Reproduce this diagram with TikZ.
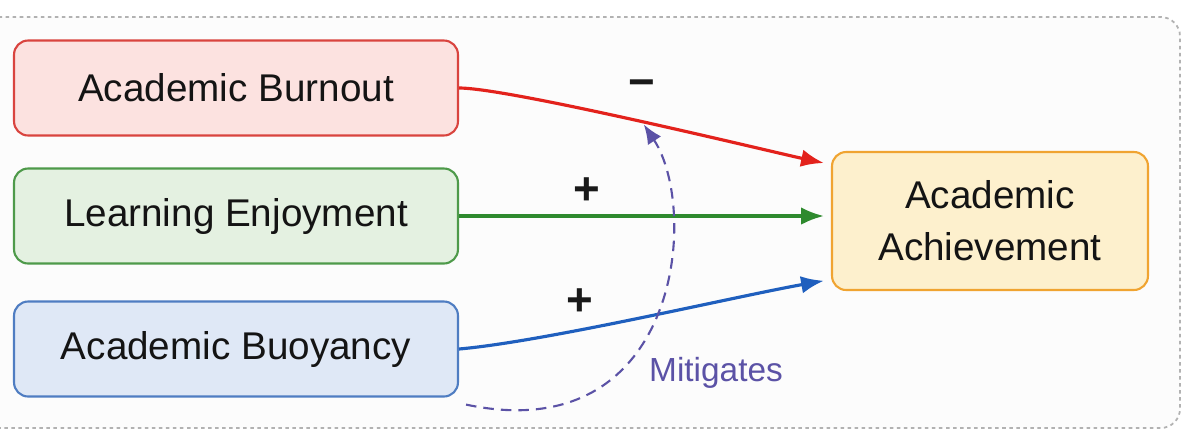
\documentclass[tikz,border=0pt]{standalone}
\usepackage{fontspec}
\setmainfont{Liberation Sans}
\usetikzlibrary{arrows.meta}

\definecolor{burnline}{HTML}{D9443F}
\definecolor{burnfill}{HTML}{FCE2E0}
\definecolor{enjline}{HTML}{4E9A4A}
\definecolor{enjfill}{HTML}{E4F1E1}
\definecolor{buoyline}{HTML}{4F7DC2}
\definecolor{buoyfill}{HTML}{DFE8F6}
\definecolor{achline}{HTML}{F0A431}
\definecolor{achfill}{HTML}{FDF0CD}
\definecolor{redarrow}{HTML}{E3221C}
\definecolor{greenarrow}{HTML}{2E8A2E}
\definecolor{bluearrow}{HTML}{1F5FBE}
\definecolor{mitig}{HTML}{5B52A6}

\begin{document}
\begin{tikzpicture}[x=0.02cm, y=-0.02cm,
    factor/.style={draw, line width=1.2pt, rounded corners=8pt,
        minimum width=8.88cm, minimum height=1.9cm,
        font=\fontsize{22}{27}\selectfont, text=black!92},
    link/.style={line width=1.8pt, -{Latex[length=13pt,width=10pt]}},
    sign/.style={font=\fontsize{26}{30}\selectfont\bfseries, text=black!90}]
    \useasboundingbox (0,0) rectangle (1183,434);
    \draw [gray!60, fill=black!1, line width=1pt, dash pattern=on 2pt off 2pt,
        rounded corners=11pt] (-20,17) rectangle (1180,428);

    \node [factor, draw=burnline, fill=burnfill] (burn) at (236,88) {Academic Burnout};
    \node [factor, draw=enjline, fill=enjfill] (enj) at (236,216) {Learning Enjoyment};
    \node [factor, draw=buoyline, fill=buoyfill] (buoy) at (236,349) {Academic Buoyancy};
    \node [factor, draw=achline, fill=achfill, minimum width=6.32cm,
        minimum height=2.76cm, align=center,
        font=\fontsize{22}{29.5}\selectfont] (ach) at (990,221)
        {Academic\\Achievement};

    \draw [link, redarrow] (burn.east) to[out=0, in=168, looseness=0.35]
        coordinate[pos=0.5] (hit)
        node[sign, pos=0.5, yshift=19pt] {−}
        ([xshift=-4pt, yshift=33pt]ach.west);
    \draw [link, greenarrow] (enj.east) --
        node[sign, pos=0.35, yshift=14pt] {+}
        ([xshift=-4pt]ach.west |- enj.east);
    \draw [link, bluearrow] (buoy.east) to[out=5, in=190, looseness=0.6]
        node[sign, pos=0.35, yshift=16pt] {+}
        ([xshift=-4pt, yshift=-34pt]ach.west);

    \draw [mitig, line width=1.2pt, dash pattern=on 6pt off 4pt,
        -{Latex[length=11pt,width=9pt]}, shorten >=2pt]
        ([xshift=4pt, yshift=-4pt]buoy.south east)
        .. controls (680,450) and (700,210) .. (hit);
    \node [mitig, font=\fontsize{19}{23}\selectfont] (mitlabel) at (716,373) {Mitigates};
\end{tikzpicture}
\end{document}
